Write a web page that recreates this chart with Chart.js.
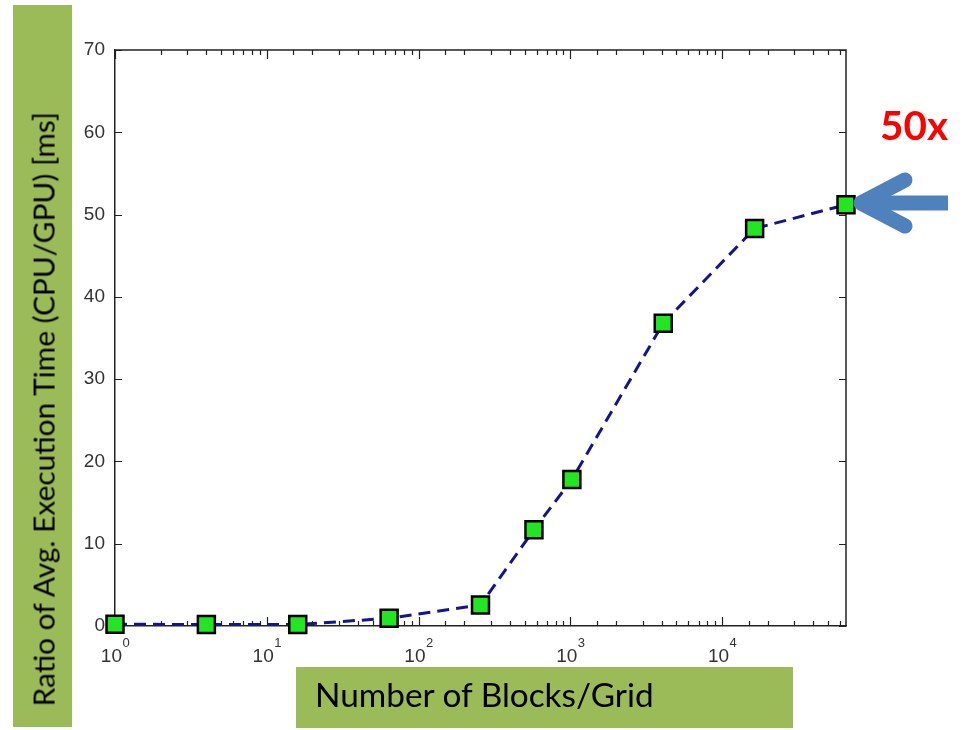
<!DOCTYPE html>
<html>
<head>
<meta charset="utf-8">
<script src="https://cdn.jsdelivr.net/npm/chart.js@4.4.1/dist/chart.umd.min.js"></script>
<style>
  html, body { margin: 0; padding: 0; background: #fff; }
  #wrap { position: relative; width: 965px; height: 730px; overflow: hidden; }
  #chart { position: absolute; left: 0; top: 0; }
  .box { position: absolute; background: #9bbb59; }
  .title { position: absolute; font-family: Lato, "Open Sans", sans-serif; color: #000; white-space: nowrap; line-height: 1; }
  #callout { position: absolute; font-family: Lato, "Open Sans", sans-serif; font-weight: bold; color: #ff0000; white-space: nowrap; line-height: 1; }
  #arrow { position: absolute; left: 0; top: 0; }
</style>
</head>
<body>
<div id="wrap">
  <div class="box" style="left:13px; top:5px; width:59px; height:722px;"></div>
  <div class="box" style="left:296px; top:667px; width:497px; height:61px;"></div>
  <canvas id="chart" width="965" height="730"></canvas>
  <div id="yTitle" class="title">Ratio of Avg. Execution Time (CPU/GPU) [ms]</div>
  <div id="xTitle" class="title">Number of Blocks/Grid</div>
  <div id="callout">50x</div>
  <svg id="arrow" width="965" height="730">
    <polyline points="905,180 861,203 905,226" fill="none" stroke="#4f81bd" stroke-width="15" stroke-linecap="round" stroke-linejoin="round"/>
    <line x1="864" y1="203" x2="948" y2="203" stroke="#4f81bd" stroke-width="15"/>
  </svg>
</div>
<script>
// Blocks per grid (x) and CPU/GPU execution-time ratio (y)
const blocks  = [1, 4, 16, 64, 256, 576, 1024, 4096, 16384, 65536];
const speedup = [0.21, 0.18, 0.18, 0.94, 2.55, 11.7, 17.8, 36.8, 48.3, 51.2];

// Axis ranges and labelled ticks
const xMin = 1, xMax = 65536;
const xDecades = [1, 10, 100, 1000, 10000];
const yMin = 0, yMax = 70, yStep = 10;

const tickFont = '19px "Liberation Sans", Arial, sans-serif';
const supFont  = '13px "Liberation Sans", Arial, sans-serif';
const tickColor = '#333';

// Box frame with inward-pointing ticks and power-of-ten x labels
const framePlugin = {
  id: 'frame',
  beforeDatasetsDraw(chart) {
    const { ctx, chartArea: a, scales: { x, y } } = chart;
    ctx.save();
    ctx.strokeStyle = '#222';
    ctx.lineWidth = 1.5;
    ctx.beginPath();
    ctx.moveTo(a.left, a.top); ctx.lineTo(a.right, a.top); ctx.lineTo(a.right, a.bottom);
    ctx.stroke();

    ctx.lineWidth = 1.2;
    ctx.beginPath();
    // y ticks on both sides
    for (let v = yMin; v <= yMax; v += yStep) {
      const py = Math.round(y.getPixelForValue(v)) + 0.5;
      ctx.moveTo(a.left, py); ctx.lineTo(a.left + 7, py);
      ctx.moveTo(a.right, py); ctx.lineTo(a.right - 7, py);
    }
    // x ticks (log): long at decades, short in between, top and bottom
    x.ticks.forEach(t => {
      if (t.value >= xMax) return;
      const lg = Math.log10(t.value);
      const major = Math.abs(lg - Math.round(lg)) < 1e-9;
      const len = major ? 9 : 5;
      const px = Math.round(x.getPixelForValue(t.value)) + 0.5;
      ctx.moveTo(px, a.bottom); ctx.lineTo(px, a.bottom - len);
      ctx.moveTo(px, a.top); ctx.lineTo(px, a.top + len);
    });
    ctx.stroke();

    // x labels: "10" with a raised exponent
    ctx.fillStyle = tickColor;
    ctx.textBaseline = 'alphabetic';
    ctx.textAlign = 'left';
    xDecades.forEach(v => {
      const exp = String(Math.round(Math.log10(v)));
      ctx.font = tickFont;
      const wBase = ctx.measureText('10').width;
      ctx.font = supFont;
      const wExp = ctx.measureText(exp).width;
      const px = x.getPixelForValue(v);
      const left = px - (wBase + wExp) / 2;
      ctx.font = tickFont;
      ctx.fillText('10', left, 662);
      ctx.font = supFont;
      ctx.fillText(exp, left + wBase + 0.5, 647);
    });
    ctx.restore();
  }
};

const chart = new Chart(document.getElementById('chart'), {
  type: 'line',
  data: {
    datasets: [{
      data: blocks.map((b, i) => ({ x: b, y: speedup[i] })),
      borderColor: '#14148c',
      borderWidth: 3,
      borderDash: [12, 7],
      fill: false,
      tension: 0,
      pointStyle: 'rect',
      pointRadius: 12,
      pointHoverRadius: 12,
      pointBackgroundColor: '#22e622',
      pointBorderColor: '#000',
      pointBorderWidth: 2.5,
      clip: false
    }]
  },
  options: {
    responsive: false,
    animation: false,
    events: [],
    layout: { padding: { left: 0, top: 50, right: 119, bottom: 0 } },
    plugins: { legend: { display: false }, tooltip: { enabled: false } },
    scales: {
      x: {
        type: 'logarithmic',
        min: xMin,
        max: xMax,
        grid: { display: false },
        border: { display: true, color: '#222', width: 1.5 },
        ticks: { display: false },
        afterFit(s) { s.height = 104; }
      },
      y: {
        type: 'linear',
        min: yMin,
        max: yMax,
        grid: { display: false, drawTicks: false },
        border: { display: true, color: '#222', width: 1.5 },
        ticks: {
          stepSize: yStep,
          padding: 10,
          color: tickColor,
          font: { family: '"Liberation Sans", Arial, sans-serif', size: 19 }
        },
        afterFit(s) { s.width = 115; }
      }
    }
  },
  plugins: [framePlugin]
});

// Size the slide-style titles to their spans
function fitText(el, family, weight, target) {
  const c = document.createElement('canvas').getContext('2d');
  c.font = weight + ' 100px ' + family;
  const w = c.measureText(el.textContent).width;
  const size = 100 * target / w;
  el.style.fontSize = size.toFixed(2) + 'px';
  return size;
}
const fam = 'Lato';
const yT = document.getElementById('yTitle');
const ys = fitText(yT, fam, 'normal', 597);
yT.style.width = '597px';
yT.style.height = ys + 'px';
yT.style.left = (43 - 597 / 2) + 'px';
yT.style.top = (408 - ys / 2) + 'px';
yT.style.transform = 'rotate(-90deg)';

const xT = document.getElementById('xTitle');
const xs = fitText(xT, fam, 'normal', 340);
xT.style.left = '315px';
xT.style.top = (705 - xs * 0.8) + 'px';

const co = document.getElementById('callout');
const cs = fitText(co, fam, 'bold', 68);
co.style.left = '880px';
co.style.top = (137 - cs * 0.8) + 'px';
</script>
</body>
</html>
